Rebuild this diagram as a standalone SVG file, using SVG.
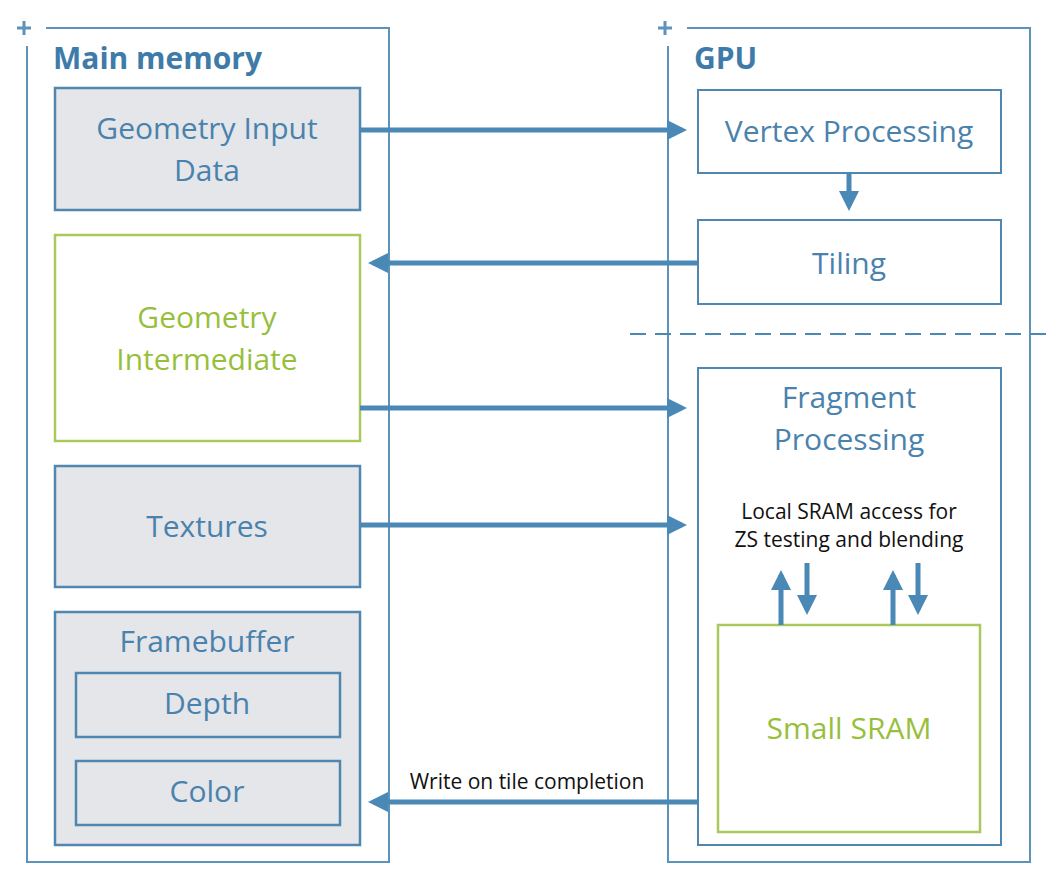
<svg xmlns="http://www.w3.org/2000/svg" width="1051" height="879" viewBox="0 0 1051 879">
<style>
.frame{fill:none;stroke:#5b93ba;stroke-width:2}
.gray{fill:#e4e6ea;stroke:#4f87b0;stroke-width:2.5}
.white{fill:#fff;stroke:#4f87b0;stroke-width:2}
.green{fill:#fff;stroke:#a9c95c;stroke-width:2.5}
.t{font-family:"Open Sans","Liberation Sans",sans-serif;font-size:30px;fill:#4a82ad;text-anchor:middle}
.tg{font-family:"Open Sans","Liberation Sans",sans-serif;font-size:30px;fill:#97bf3c;text-anchor:middle}
.h{font-family:"Open Sans","Liberation Sans",sans-serif;font-size:30px;font-weight:bold;fill:#3f7ba8}
.s{font-family:"Open Sans","Liberation Sans",sans-serif;font-size:21px;fill:#111;text-anchor:middle}
.c{stroke:#4a88b5;stroke-width:5;fill:none}
.cross{stroke:#5b93ba;stroke-width:3}
</style>
<defs>
<marker id="ah" markerWidth="4" markerHeight="4" refX="3" refY="2" orient="auto" markerUnits="strokeWidth"><path d="M0,0 L4,2 L0,4 Z" fill="#4a88b5"/></marker>
</defs>
<g id="mainmem">
<path class="frame" d="M46,28 H389 V862 H27 V46"/>
<path class="cross" d="M17,28 H31 M24,21 V35"/>
<text class="h" x="53" y="69">Main memory</text>
</g>
<g id="gpu">
<path class="frame" d="M687,28 H1030 V862 H668 V46"/>
<path class="cross" d="M658,28 H672 M665,21 V35"/>
<text class="h" x="694" y="69">GPU</text>
</g>
<g id="geominput"><rect class="gray" x="55" y="88" width="305" height="122"/><text class="t" x="207" y="139">Geometry Input</text><text class="t" x="207" y="181">Data</text></g>
<g id="geominter"><rect class="green" x="55" y="235" width="305" height="206"/><text class="tg" x="207" y="328">Geometry</text><text class="tg" x="207" y="370">Intermediate</text></g>
<g id="textures"><rect class="gray" x="55" y="466" width="305" height="121"/><text class="t" x="207" y="537">Textures</text></g>
<g id="framebuffer"><rect class="gray" x="55" y="612" width="305" height="233"/><text class="t" x="207" y="652">Framebuffer</text></g>
<g id="depth"><rect class="gray" x="76" y="673" width="264" height="64"/><text class="t" x="207" y="714">Depth</text></g>
<g id="color"><rect class="gray" x="76" y="761" width="264" height="64"/><text class="t" x="207" y="802">Color</text></g>
<g id="vertex"><rect class="white" x="698" y="90" width="303" height="83"/><text class="t" x="849" y="142">Vertex Processing</text></g>
<g id="tiling"><rect class="white" x="698" y="220" width="303" height="84"/><text class="t" x="849" y="274">Tiling</text></g>
<g id="fragment"><rect class="white" x="698" y="368" width="303" height="477"/><text class="t" x="849" y="408">Fragment</text><text class="t" x="849" y="450">Processing</text>
<text class="s" x="849" y="519">Local SRAM access for</text><text class="s" x="849" y="547">ZS testing and blending</text></g>
<g id="sram"><rect class="green" x="718" y="625" width="262" height="207"/><text class="tg" x="849" y="739">Small SRAM</text></g>
<g id="connectors">
<line x1="630" y1="334" x2="1050" y2="334" stroke="#4a88b5" stroke-width="2" stroke-dasharray="16,9"/>
<line class="c" x1="360" y1="130" x2="682" y2="130" marker-end="url(#ah)"/>
<line class="c" x1="849" y1="173" x2="849" y2="206" marker-end="url(#ah)"/>
<line class="c" x1="698" y1="263" x2="373" y2="263" marker-end="url(#ah)"/>
<line class="c" x1="360" y1="408" x2="682" y2="408" marker-end="url(#ah)"/>
<line class="c" x1="360" y1="525" x2="682" y2="525" marker-end="url(#ah)"/>
<line class="c" x1="698" y1="802" x2="373" y2="802" marker-end="url(#ah)"/>
<line class="c" x1="781" y1="625" x2="781" y2="575" marker-end="url(#ah)"/>
<line class="c" x1="807" y1="563" x2="807" y2="610" marker-end="url(#ah)"/>
<line class="c" x1="893" y1="625" x2="893" y2="575" marker-end="url(#ah)"/>
<line class="c" x1="918" y1="563" x2="918" y2="610" marker-end="url(#ah)"/>
<text class="s" x="527" y="789">Write on tile completion</text>
</g>
</svg>
